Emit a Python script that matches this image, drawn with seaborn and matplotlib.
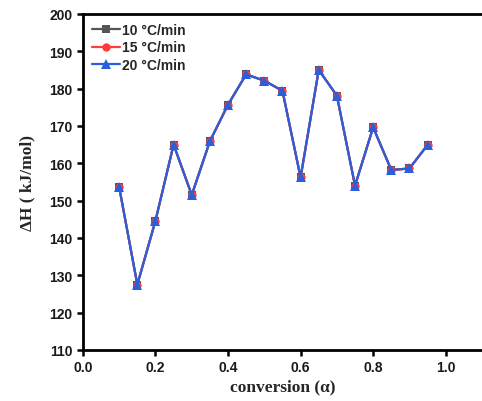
import numpy as np
import pandas as pd
import matplotlib
matplotlib.use("Agg")
import matplotlib.pyplot as plt
import seaborn as sns

conversion = [0.10, 0.15, 0.20, 0.25, 0.30, 0.35, 0.40, 0.45, 0.50,
              0.55, 0.60, 0.65, 0.70, 0.75, 0.80, 0.85, 0.90, 0.95]
dH_10 = [153.6, 127.5, 144.6, 165.0, 151.5, 165.9, 175.7, 183.8, 182.1,
         179.4, 156.2, 185.0, 178.1, 154.0, 169.6, 158.2, 158.6, 164.9]
dH_15 = list(dH_10)
dH_20 = list(dH_10)
series_names = ["10 °C/min", "15 °C/min", "20 °C/min"]

frames = []
for name, vals in zip(series_names, [dH_10, dH_15, dH_20]):
    frames.append(pd.DataFrame({"conversion": conversion, "dH": vals, "rate": name}))
df = pd.concat(frames, ignore_index=True)

sns.set_theme(style="ticks")
plt.rcParams["font.family"] = ["Liberation Sans", "DejaVu Sans"]

fig = plt.figure(figsize=(4.82, 4.02), dpi=100)
ax = fig.add_axes([0.172, 0.127, 0.828, 0.836])

palette = {"10 °C/min": "#555555", "15 °C/min": "#ff3b3b", "20 °C/min": "#2a5fdc"}
markers = {"10 °C/min": "s", "15 °C/min": "o", "20 °C/min": "^"}
msize = {"10 °C/min": 5.5, "15 °C/min": 6.0, "20 °C/min": 7.5}
sns.lineplot(data=df, x="conversion", y="dH", hue="rate", style="rate",
             palette=palette, markers=markers, dashes=False, markersize=6,
             markeredgewidth=0, linewidth=1.6, ax=ax, sort=False)
for line, name in zip(ax.lines, series_names):
    line.set_markersize(msize[name])

ax.set_xlim(0, 1.1)
ax.set_ylim(110, 200)
ax.set_xticks([0.0, 0.2, 0.4, 0.6, 0.8, 1.0])
ax.set_yticks(np.arange(110, 201, 10))
ax.set_xticklabels(["0.0", "0.2", "0.4", "0.6", "0.8", "1.0"])
for lab in ax.get_xticklabels() + ax.get_yticklabels():
    lab.set_fontweight("bold")
    lab.set_fontsize(10)
ax.tick_params(direction="out", width=1.8, length=4, colors="black", labelcolor="#1a1a1a")
for s in ["left", "bottom", "top"]:
    ax.spines[s].set_linewidth(2)
    ax.spines[s].set_color("black")
ax.spines["right"].set_visible(False)

ax.set_xlabel("conversion (α)", fontfamily=["Liberation Serif", "DejaVu Serif"],
              fontweight="bold", fontsize=12.5, labelpad=3)
ax.set_ylabel("ΔH ( kJ/mol)", fontfamily=["Liberation Serif", "DejaVu Serif"],
              fontweight="bold", fontsize=12.5, labelpad=10)

leg = ax.legend(loc="upper left", frameon=False, prop={"weight": "bold", "size": 10},
                handlelength=2.0, handletextpad=0.2, labelspacing=0.25,
                borderaxespad=0.35, borderpad=0.3, title=None)
for h, name in zip(leg.legend_handles, series_names):
    try:
        h.set_markersize(msize[name])
    except Exception:
        pass

fig.savefig("out.png", dpi=100)
